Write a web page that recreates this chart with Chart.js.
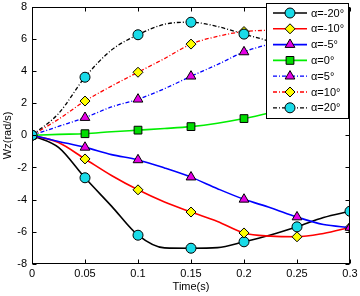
<!DOCTYPE html>
<html>
<head>
<meta charset="utf-8">
<script src="https://cdn.jsdelivr.net/npm/chart.js@4/dist/chart.umd.min.js"></script>
<style>
  body { margin: 0; background: #fff; }
  canvas { display: block; }
</style>
</head>
<body>
<canvas id="wzChart" width="360" height="296"></canvas>
<script>
// time samples (s), markers sit on every other sample
const times = [0, 0.025, 0.05, 0.075, 0.1, 0.125, 0.15, 0.175, 0.2, 0.225, 0.25, 0.275, 0.3];

// Wz (rad/s)
const wzNeg20 = [0, -0.75, -2.64, -4.4, -6.21, -7.0, -7.02, -6.98, -6.62, -6.2, -5.69, -5.11, -4.72];
const wzNeg10 = [0, -0.45, -1.47, -2.5, -3.39, -4.15, -4.77, -5.36, -6.07, -6.27, -6.31, -6.1, -5.73];
const wzNeg5  = [0, -0.38, -0.75, -1.2, -1.53, -2.03, -2.6, -3.32, -3.98, -4.5, -5.08, -5.55, -5.73];
const wzZero  = [0, 0.06, 0.1, 0.22, 0.32, 0.42, 0.54, 0.75, 1.04, 1.4, 1.8, 2.25, 2.69];
const wzPos5  = [0, 0.55, 1.1, 1.76, 2.24, 2.9, 3.67, 4.4, 5.18, 5.67, 5.95, 6.05, 6.04];
const wzPos10 = [0, 1.0, 2.13, 3.06, 3.92, 4.77, 5.67, 6.15, 6.45, 6.52, 6.45, 6.1, 5.42];
const wzPos20 = [0, 1.35, 3.61, 5.3, 6.25, 6.9, 7.03, 6.76, 6.29, 5.84, 5.4, 5.0, 4.54];

const labels = ['α=-20°', 'α=-10°', 'α=-5°', 'α=0°', 'α=5°', 'α=10°', 'α=20°'];
const xTicks = [0, 0.05, 0.1, 0.15, 0.2, 0.25, 0.3];
const yTicks = [-8, -6, -4, -2, 0, 2, 4, 6, 8];

const dashDot = [4, 2, 1, 2];

function series(i, values, color, dash, style, fill, radius) {
  return {
    label: labels[i],
    data: times.map((t, k) => ({ x: t, y: values[k] })),
    borderColor: color,
    borderWidth: dash.length ? 1.3 : 1.6,
    borderDash: dash,
    pointStyle: style,
    pointRadius: times.map((t, k) => (k % 2 === 0 ? radius : 0)),
    pointBackgroundColor: fill,
    pointBorderColor: '#000',
    pointBorderWidth: 1,
    cubicInterpolationMode: 'monotone',
    order: 7 - i
  };
}

const datasets = [
  series(0, wzNeg20, '#000000', [], 'circle', '#19dbe8', 5),
  series(1, wzNeg10, '#ff0000', [], 'rectRot', '#ffff00', 5),
  series(2, wzNeg5, '#0000ff', [], 'triangle', '#e600e6', 5.6),
  series(3, wzZero, '#00ee00', [], 'rect', '#00dd00', 5.5),
  series(4, wzPos5, '#0000ff', dashDot, 'triangle', '#e600e6', 5.6),
  series(5, wzPos10, '#ff0000', dashDot, 'rectRot', '#ffff00', 5),
  series(6, wzPos20, '#000000', dashDot, 'circle', '#19dbe8', 5)
];

// box with inward ticks, MATLAB style, plus the legend inside the top right
const frame = {
  id: 'frame',
  afterDatasetsDraw(chart) {
    const { ctx, chartArea: a, scales: { x, y } } = chart;
    ctx.save();
    ctx.strokeStyle = '#000';
    ctx.lineWidth = 1;
    ctx.setLineDash([]);
    const l = Math.round(a.left) + 0.5, r = Math.round(a.right) - 0.5;
    const t = Math.round(a.top) + 0.5, b = Math.round(a.bottom) - 0.5;
    ctx.strokeRect(l, t, r - l, b - t);
    ctx.beginPath();
    xTicks.forEach(v => {
      const px = Math.round(x.getPixelForValue(v)) + 0.5;
      ctx.moveTo(px, b); ctx.lineTo(px, b - 4);
      ctx.moveTo(px, t); ctx.lineTo(px, t + 4);
    });
    yTicks.forEach(v => {
      const py = Math.round(y.getPixelForValue(v)) + 0.5;
      ctx.moveTo(l, py); ctx.lineTo(l + 4, py);
      ctx.moveTo(r, py); ctx.lineTo(r - 4, py);
    });
    ctx.stroke();

    // legend
    const bx = 266.5, by = 3.5, bw = 82, bh = 115;
    ctx.fillStyle = '#fff';
    ctx.fillRect(bx, by, bw, bh);
    ctx.strokeRect(bx, by, bw, bh);
    ctx.font = '11px "Liberation Sans", Arial, sans-serif';
    ctx.textBaseline = 'middle';
    chart.data.datasets.forEach((ds, i) => {
      const ry = 13 + i * 15.8;
      ctx.strokeStyle = ds.borderColor;
      ctx.lineWidth = ds.borderWidth;
      ctx.setLineDash(ds.borderDash);
      ctx.beginPath();
      ctx.moveTo(273, ry); ctx.lineTo(307, ry);
      ctx.stroke();
      ctx.setLineDash([]);
      ctx.fillStyle = ds.pointBackgroundColor;
      ctx.strokeStyle = '#000';
      ctx.lineWidth = 1;
      Chart.helpers.drawPoint(ctx, {
        pointStyle: ds.pointStyle,
        radius: ds.pointRadius[0],
        borderWidth: 1,
        rotation: 0
      }, 290, ry);
      ctx.fillStyle = '#000';
      ctx.fillText(ds.label, 311, ry + 0.5);
    });
    ctx.restore();
  }
};

Chart.defaults.font.family = '"Liberation Sans", Arial, sans-serif';
Chart.defaults.font.size = 11;
Chart.defaults.color = '#000';

new Chart(document.getElementById('wzChart').getContext('2d'), {
  type: 'line',
  data: { datasets: datasets },
  options: {
    responsive: false,
    animation: false,
    devicePixelRatio: 1,
    layout: { padding: { top: 5, right: 10, left: 0, bottom: 0 } },
    plugins: {
      legend: { display: false },
      tooltip: { enabled: false }
    },
    scales: {
      x: {
        type: 'linear',
        min: 0,
        max: 0.3,
        afterBuildTicks: scale => { scale.ticks = xTicks.map(v => ({ value: v })); },
        afterFit: scale => {
          scale.height = 32;
          scale.paddingLeft = 0;
          scale.paddingRight = 0;
        },
        grid: { display: false, drawTicks: false },
        border: { display: false },
        ticks: {
          padding: 3,
          maxRotation: 0,
          autoSkip: false,
          callback: value => String(Number(value.toFixed(2)))
        },
        title: { display: true, text: 'Time(s)', padding: { top: 0, bottom: 2 } }
      },
      y: {
        min: -8,
        max: 8,
        afterBuildTicks: scale => { scale.ticks = yTicks.map(v => ({ value: v })); },
        afterFit: scale => {
          scale.width = 32;
          scale.paddingTop = 0;
          scale.paddingBottom = 0;
        },
        grid: { display: false, drawTicks: false },
        border: { display: false },
        ticks: { padding: 5, autoSkip: false },
        title: { display: true, text: 'Wz(rad/s)', padding: { top: 1.5, bottom: 0 } }
      }
    }
  },
  plugins: [frame]
});
</script>
</body>
</html>
